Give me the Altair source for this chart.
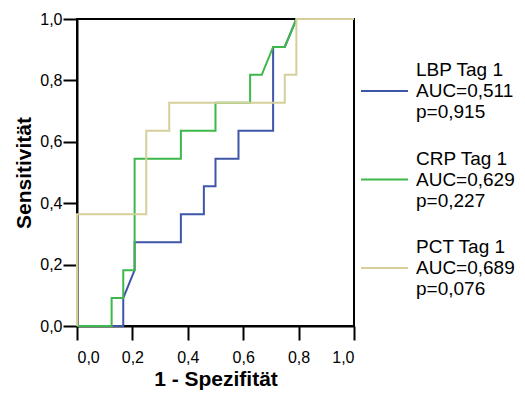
import altair as alt
import pandas as pd

# ROC curve points (1 - specificity, sensitivity)
lbp_fpr = [0, 0.167, 0.167, 0.208, 0.208, 0.375, 0.375, 0.458, 0.458, 0.5, 0.5, 0.583, 0.583, 0.708, 0.708, 0.75, 0.792, 1.0]
lbp_tpr = [0, 0, 0.091, 0.182, 0.273, 0.273, 0.364, 0.364, 0.455, 0.455, 0.545, 0.545, 0.636, 0.636, 0.909, 0.909, 1.0, 1.0]

crp_fpr = [0, 0.125, 0.125, 0.167, 0.167, 0.208, 0.208, 0.375, 0.375, 0.5, 0.5, 0.625, 0.625, 0.667, 0.708, 0.75, 0.792, 1.0]
crp_tpr = [0, 0, 0.091, 0.091, 0.182, 0.182, 0.545, 0.545, 0.636, 0.636, 0.727, 0.727, 0.818, 0.818, 0.909, 0.909, 1.0, 1.0]

pct_fpr = [0, 0, 0.25, 0.25, 0.333, 0.333, 0.75, 0.75, 0.792, 0.792, 1.0]
pct_tpr = [0, 0.364, 0.364, 0.636, 0.636, 0.727, 0.727, 0.818, 0.818, 1.0, 1.0]

series_names = ["LBP Tag 1", "CRP Tag 1", "PCT Tag 1"]
auc_labels = ["AUC=0,511", "AUC=0,629", "AUC=0,689"]
p_labels = ["p=0,915", "p=0,227", "p=0,076"]
colors = ["#3F56A8", "#3DB84A", "#D5CF9A"]
ticks = [0, 0.2, 0.4, 0.6, 0.8, 1.0]

rows = []
for name, xs, ys in zip(series_names, [lbp_fpr, crp_fpr, pct_fpr], [lbp_tpr, crp_tpr, pct_tpr]):
    for i, (xv, yv) in enumerate(zip(xs, ys)):
        rows.append({"series": name, "fpr": xv, "tpr": yv, "idx": i})
df = pd.DataFrame(rows)

label_expr = " : ".join(
    f"datum.label == '{n}' ? ['{n}', '{a}', '{p}']" for n, a, p in zip(series_names, auc_labels, p_labels)
) + " : datum.label"

FONT = "Liberation Sans"
num_expr = "replace(format(datum.value, '.1f'), '.', ',')"

# legend line drawn next to the middle text line (offset by one line height: 21px / 23.5)
legend_symbol = "M-1,0.894L1,0.894"

color = alt.Color(
    "series:N",
    scale=alt.Scale(domain=series_names, range=colors),
    legend=alt.Legend(
        orient="none", legendX=283, legendY=26.5, title=None,
        symbolType=legend_symbol, symbolSize=2209, symbolStrokeWidth=2,
        labelFontSize=19, labelFont=FONT, labelColor="black",
        labelOffset=7, rowPadding=11.5,
        labelExpr=label_expr, labelLimit=250,
    ),
)

x = alt.X(
    "fpr:Q",
    scale=alt.Scale(domain=[0, 1], nice=False),
    axis=alt.Axis(
        values=ticks, labelExpr=num_expr, title="1 - Spezifität",
        tickSize=14, tickWidth=2, domainWidth=2, domainColor="black", tickColor="black",
        labelColor="black", labelFontSize=16, labelFont=FONT, labelPadding=9,
        titleFont=FONT, titleFontSize=21, titleFontWeight="bold", titleColor="black",
        titlePadding=3, grid=False,
    ),
)
y = alt.Y(
    "tpr:Q",
    scale=alt.Scale(domain=[0, 1], nice=False),
    axis=alt.Axis(
        values=ticks, labelExpr=num_expr, title="Sensitivität",
        tickSize=14, tickWidth=2, domainWidth=2, domainColor="black", tickColor="black",
        labelColor="black", labelFontSize=16, labelFont=FONT, labelPadding=1,
        titleFont=FONT, titleFontSize=21, titleFontWeight="bold", titleColor="black",
        titlePadding=5, grid=False,
    ),
)

layers = []
for name in series_names:
    layers.append(
        alt.Chart(df)
        .transform_filter(alt.datum.series == name)
        .mark_line(strokeWidth=2, interpolate="linear")
        .encode(x=x, y=y, color=color, order="idx:Q")
    )

chart = (
    alt.layer(*layers)
    .properties(
        width=277, height=307,
        autosize=alt.AutoSizeParams(type="none"),
        padding={"left": 69, "top": 11, "right": 163, "bottom": 64},
    )
    .configure_view(stroke="black", strokeWidth=2)
)

chart.save("out.html", embed_options={"renderer": "svg", "actions": False})
